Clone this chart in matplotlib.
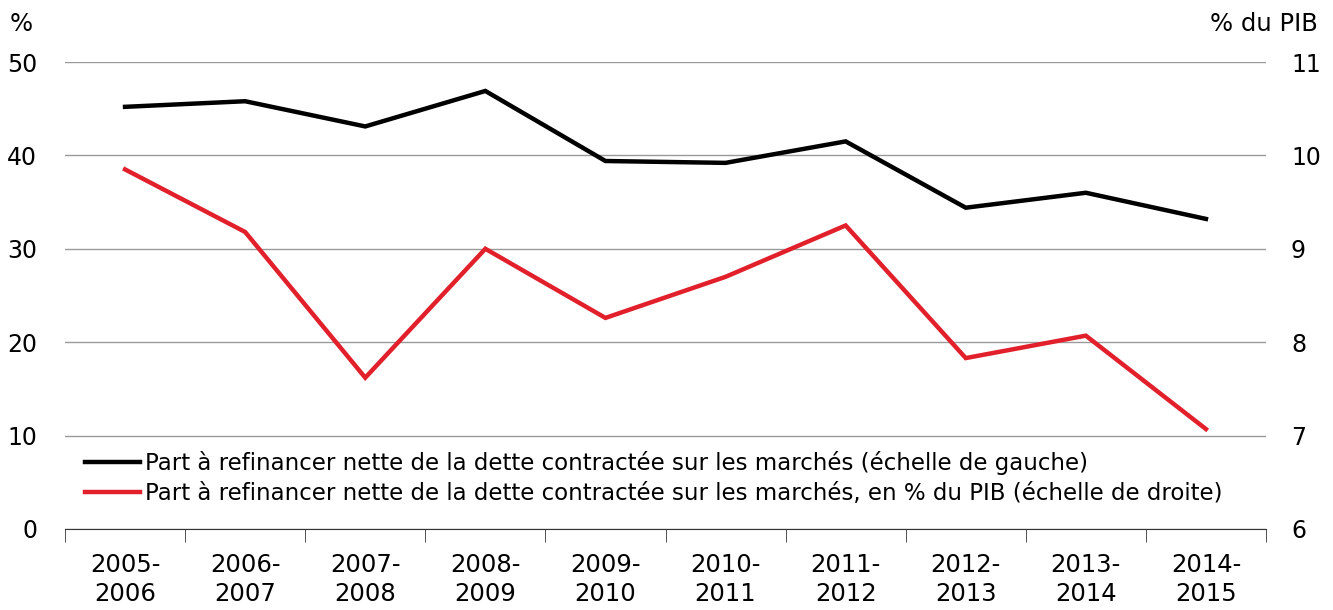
import matplotlib
matplotlib.use("Agg")
import matplotlib.pyplot as plt

plt.rcParams['font.family'] = ['DejaVu Sans']

# data
years = ['2005-\n2006', '2006-\n2007', '2007-\n2008', '2008-\n2009', '2009-\n2010',
         '2010-\n2011', '2011-\n2012', '2012-\n2013', '2013-\n2014', '2014-\n2015']
part_pct = [45.2, 45.8, 43.1, 46.9, 39.4, 39.2, 41.5, 34.4, 36.0, 33.2]
part_pib = [9.85, 9.18, 7.62, 9.00, 8.26, 8.70, 9.25, 7.83, 8.07, 7.07]

lab1 = "Part à refinancer nette de la dette contractée sur les marchés (échelle de gauche)"
lab2 = "Part à refinancer nette de la dette contractée sur les marchés, en % du PIB (échelle de droite)"

red = '#E1202B'
fs = 16.5

fig = plt.figure(figsize=(13.33, 6.10), dpi=100)
ax = fig.add_axes([65/1333, 1 - 529/610, 1201/1333, 467/610])
ax2 = ax.twinx()

x = range(len(years))
l1, = ax.plot(x, part_pct, color='black', lw=3.2, solid_joinstyle='miter')
l2, = ax2.plot(x, part_pib, color=red, lw=3.2, solid_joinstyle='miter')

ax.set_xlim(-0.5, len(years) - 0.5)
ax.set_ylim(0, 50)
ax2.set_ylim(6, 11)
ax.set_yticks(range(0, 51, 10))
ax2.set_yticks(range(6, 12))

ax.grid(axis='y', color='#999999', lw=1)
ax.set_axisbelow(True)
for a in (ax, ax2):
    for s in ['top', 'left', 'right']:
        a.spines[s].set_visible(False)
    a.tick_params(axis='y', length=0, labelsize=fs + 0.5)
ax2.spines['bottom'].set_visible(False)
ax.spines['bottom'].set_color('#333333')

ax.set_xticks(x)
ax.set_xticklabels(years, fontsize=fs + 1, linespacing=1.3)
ax.tick_params(axis='x', length=0, pad=17)
ax.set_xticks([i - 0.5 for i in range(len(years) + 1)], minor=True)
ax.tick_params(axis='x', which='minor', length=9, direction='out', color='#333333')
ax.tick_params(axis='y', pad=20)
ax2.tick_params(axis='y', pad=18)

fig.text(10/1333, 1 - 24/610, '%', fontsize=fs + 1, va='center', ha='left')
fig.text(1318/1333, 1 - 24/610, '% du PIB', fontsize=fs + 1, va='center', ha='right')

ax.legend([l1, l2], [lab1, lab2], loc='lower left', bbox_to_anchor=(0.017, 0.052),
          frameon=False, fontsize=fs, handlelength=2.4, handletextpad=0.2,
          labelspacing=0.3, borderpad=0, borderaxespad=0)

fig.savefig('out.png', dpi=100)
